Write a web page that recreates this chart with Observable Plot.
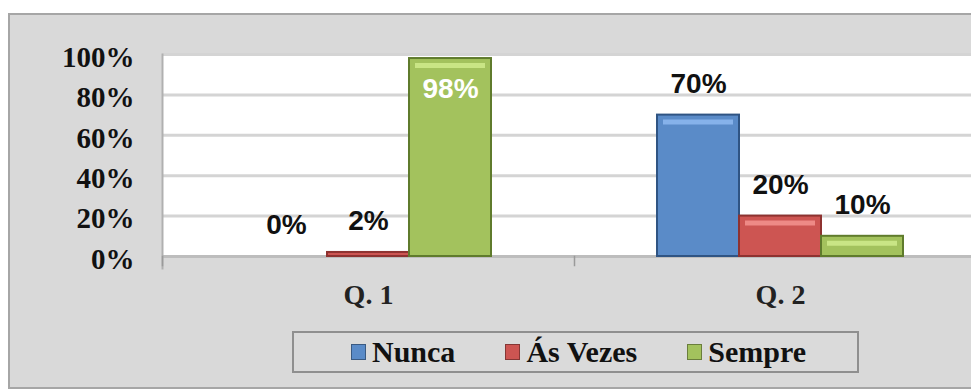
<!DOCTYPE html>
<html>
<head>
<meta charset="utf-8">
<script src="https://cdn.jsdelivr.net/npm/d3@7"></script>
<script src="https://cdn.jsdelivr.net/npm/@observablehq/plot@0.6"></script>
<style>
  html, body { margin: 0; padding: 0; background: #ffffff; overflow: hidden; width: 971px; height: 389px; }
  #frame { position: absolute; left: 8px; top: 13px; width: 980px; height: 372px; background: #d9d9d9; border: 2px solid #a6a6a6; }
  #chart { position: absolute; left: 0; top: 0; }
  #legend { position: absolute; left: 292px; top: 331px; width: 557px; height: 38px; border: 2px solid #8f8f8f;
    background: #dadada; display: flex; align-items: center; justify-content: center; gap: 50px;
    font-family: "Liberation Serif", "Times New Roman", serif; font-weight: bold; font-size: 30px; color: #111; padding-left: 6px; box-sizing: content-box; }
  .item { display: flex; align-items: center; gap: 6px; }
  .sw { width: 15px; height: 16px; border: 1px solid rgba(0,0,0,0.35); box-sizing: border-box; }
</style>
</head>
<body>
<div id="frame"></div>
<div id="chart"></div>
<div id="legend"></div>
<script>
// ---- data ----
const questions = ["Q. 1", "Q. 2"];
const series = ["Nunca", "Ás Vezes", "Sempre"];
const q1Values = [0, 2, 98];
const q2Values = [70, 20, 10];
const yTicks = [0, 20, 40, 60, 80, 100];

// ---- styles ----
const fills = {"Nunca": "#5a8bc8", "Ás Vezes": "#cd5552", "Sempre": "#a3c25d"};
const strokes = {"Nunca": "#2f5483", "Ás Vezes": "#8e3230", "Sempre": "#5f7b2c"};
const highlights = {"Nunca": "#86b2ea", "Ás Vezes": "#ee8a86", "Sempre": "#c9e585"};

const valuesByQ = [q1Values, q2Values];
const data = questions.flatMap((q, i) => series.map((s, j) => ({q, s, v: valuesByQ[i][j]})));

const serif = "'Liberation Serif', 'Times New Roman', serif";
const sans = "'Liberation Sans', Arial, sans-serif";

const chart = Plot.plot({
  width: 971,
  height: 389,
  marginTop: 54,
  marginBottom: 133,
  marginLeft: 162,
  marginRight: 0,
  style: {background: "transparent", overflow: "hidden"},
  fx: {domain: questions, range: [162, 986], paddingInner: 0, paddingOuter: 0, label: null, axis: null},
  x: {domain: series, paddingInner: 0, paddingOuter: 1, axis: null},
  y: {domain: [0, 100], axis: null},
  color: {type: "identity"},
  marks: [
    Plot.frame({fill: "white", stroke: null, insetRight: -1}),
    Plot.gridY(yTicks, {stroke: "#d4d4d4", strokeOpacity: 1, strokeWidth: 3}),
    Plot.ruleY([0], {stroke: "#bdbdbd", strokeWidth: 3}),
    Plot.frame({anchor: "left", facetAnchor: "left", stroke: "#b0b0b0", strokeWidth: 2, insetBottom: -12}),
    Plot.frame({anchor: "left", stroke: "#9a9a9a", strokeWidth: 1.5, insetTop: 202, insetBottom: -9}),
    Plot.barY(data, {fx: "q", x: "s", y: "v", fill: d => fills[d.s], stroke: d => strokes[d.s], strokeWidth: 2}),
    Plot.tickY(data.filter(d => d.v >= 10), {fx: "q", x: "s", y: "v", stroke: d => highlights[d.s], strokeWidth: 5, dy: 7, insetLeft: 6, insetRight: 6}),
    Plot.text(data.filter(d => d.v < 90), {fx: "q", x: "s", y: "v", text: d => d.v + "%", dy: -31,
      fill: "#111", fontSize: 28, fontWeight: "bold", fontFamily: sans}),
    Plot.text(data.filter(d => d.v >= 90), {fx: "q", x: "s", y: "v", text: d => d.v + "%", dy: 30,
      fill: "white", fontSize: 28, fontWeight: "bold", fontFamily: sans}),
    Plot.axisY(yTicks, {tickSize: 0, tickPadding: 28, dy: 3, tickFormat: d => d + "%", label: null,
      fontSize: 29, fontWeight: "bold", fontFamily: serif, fill: "#111"}),
    Plot.axisFx({tickSize: 0, tickPadding: 28, label: null, anchor: "bottom",
      fontSize: 28, fontWeight: "bold", fontFamily: serif, fill: "#222"})
  ]
});
document.getElementById("chart").appendChild(chart);

const legend = document.getElementById("legend");
for (const s of series) {
  const item = document.createElement("div");
  item.className = "item";
  const sw = document.createElement("span");
  sw.className = "sw";
  sw.style.background = fills[s];
  const t = document.createElement("span");
  t.textContent = s;
  item.appendChild(sw);
  item.appendChild(t);
  legend.appendChild(item);
}
</script>
</body>
</html>
